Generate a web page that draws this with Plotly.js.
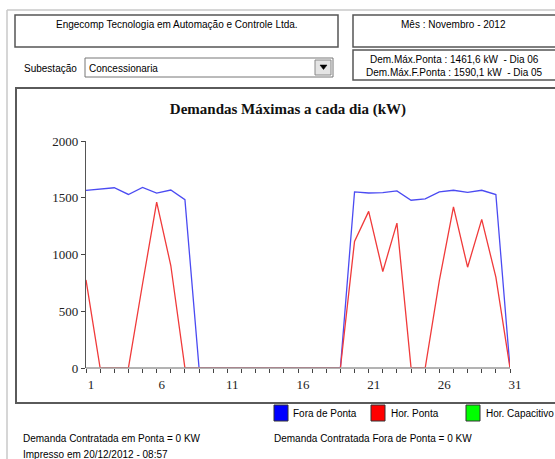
<!DOCTYPE html>
<html>
<head>
<meta charset="utf-8">
<script src="https://cdn.plot.ly/plotly-3.0.1.min.js"></script>
<style>
html,body{margin:0;padding:0;background:#fff;}
#chart{width:555px;height:459px;}
</style>
</head>
<body>
<div id="chart"></div>
<script>
// ---- data ----
const days = [1,2,3,4,5,6,7,8,9,10,11,12,13,14,15,16,17,18,19,20,21,22,23,24,25,26,27,28,29,30,31];
const foraDePonta = [1565,1576,1588,1529,1590.1,1541,1568,1483,0,0,0,0,0,0,0,0,0,0,0,1551,1542,1545,1560,1478,1490,1551,1566,1548,1566,1528,0];
const horPonta = [776,0,0,0,740,1461.6,903,0,0,0,0,0,0,0,0,0,0,0,0,1115,1380,850,1277,0,0,770,1419,888,1310,800,0];
const xTickLabels = ["1","","","","","6","","","","","11","","","","","16","","","","","21","","","","","26","","","","","31"];
const yTickVals = [0,500,1000,1500,2000];
const seriesNames = ["Fora de Ponta","Hor. Ponta","Hor. Capacitivo"];
const legendColors = ["#0000ff","#ff0000","#00ff00"];

const W = 555, H = 459;
const px = v => v / W;
const py = v => 1 - v / H;

const uiFont = {family: "Liberation Sans, Arial, sans-serif", size: 10, color: "#000"};

function rect(x0, y0, x1, y1, color, width, fill, layer) {
  return {type: "rect", xref: "paper", yref: "paper", x0: px(x0), x1: px(x1), y0: py(y1), y1: py(y0),
          line: {color: color, width: width}, fillcolor: fill || "rgba(0,0,0,0)", layer: layer || "below"};
}
function line(x0, y0, x1, y1, color, width, layer) {
  return {type: "line", xref: "paper", yref: "paper", x0: px(x0), x1: px(x1), y0: py(y0), y1: py(y1),
          line: {color: color, width: width}, layer: layer || "below"};
}
function text(t, x, y, anchor, font) {
  return {text: t, xref: "paper", yref: "paper", x: px(x), y: py(y), xanchor: anchor || "left",
          yanchor: "middle", showarrow: false, font: font || uiFont};
}

const xDomain = [px(86), px(510)];
const yDomain = [py(368), py(141)];

const shapes = [
  line(7, 10, 555, 10, "#c8c8c8", 1.5),
  line(7, 10, 7, 459, "#c8c8c8", 1.5),
  rect(15, 15, 338, 47, "#555", 1.5),
  rect(353, 15, 556, 47, "#555", 1.5),
  rect(353, 50, 556, 80, "#555", 1.5),
  rect(85, 58, 333, 77, "#777", 1),
  rect(315, 60, 331, 75, "#888", 1, "#e4e4e4"),
  {type: "path", xref: "paper", yref: "paper",
   path: `M ${px(320)} ${py(65)} L ${px(327)} ${py(65)} L ${px(323.5)} ${py(69.5)} Z`,
   fillcolor: "#000", line: {color: "#000", width: 0.5}, layer: "below"},
  rect(16, 88, 556, 403, "#5a5a5a", 2),
  // x axis baseline drawn over the traces (hides the zero-valued stretches, as in the original)
  {type: "line", xref: "paper", yref: "paper", x0: xDomain[0], x1: xDomain[1], y0: yDomain[0], y1: yDomain[0],
   line: {color: "#9a9a9a", width: 1.6}, layer: "above"}
];

// legend swatches
const legX = [274, 371, 466];
const legTextX = [291, 389, 484];
const annotations = [
  text("Engecomp Tecnologia em Automação e Controle Ltda.", 177, 24, "center"),
  text("Mês : Novembro - 2012", 453, 25, "center"),
  text("Dem.Máx.Ponta : 1461,6 kW  - Dia 06", 454, 59, "center"),
  text("Dem.Máx.F.Ponta : 1590,1 kW  - Dia 05", 454, 72, "center"),
  text("Subestação", 22, 68, "left"),
  text("Concessionaria", 87, 68, "left"),
  text("Demanda Contratada em Ponta = 0 KW", 21, 438, "left"),
  text("Demanda Contratada Fora de Ponta = 0 KW", 272, 438, "left"),
  text("Impresso em 20/12/2012 - 08:57", 21, 454, "left")
];
for (let i = 0; i < seriesNames.length; i++) {
  shapes.push(rect(legX[i], 405, legX[i] + 14, 421, "#333", 1, legendColors[i]));
  annotations.push(text(seriesNames[i], legTextX[i], 413, "left"));
}

const traces = [
  {x: days, y: foraDePonta, name: seriesNames[0], type: "scatter", mode: "lines",
   line: {color: "#4b4bf2", width: 1.3}, showlegend: false, hoverinfo: "skip"},
  {x: days, y: horPonta, name: seriesNames[1], type: "scatter", mode: "lines",
   line: {color: "#f03a3a", width: 1.3}, showlegend: false, hoverinfo: "skip"}
];

const tickFont = {family: "Liberation Serif, Times New Roman, serif", size: 13, color: "#222"};

const layout = {
  width: W, height: H, autosize: false,
  margin: {l: 0, r: 0, t: 0, b: 0, pad: 0},
  paper_bgcolor: "#fff", plot_bgcolor: "rgba(0,0,0,0)",
  showlegend: false,
  title: {text: "<b>Demandas Máximas a cada dia (kW)</b>", x: px(288), y: py(109),
          xanchor: "center", yanchor: "middle",
          font: {family: "Liberation Serif, Times New Roman, serif", size: 15, color: "#111"}},
  xaxis: {domain: xDomain, range: [1, 31], anchor: "y", showgrid: false, zeroline: false,
          showline: false, layer: "above traces",
          tickmode: "array", tickvals: days, ticktext: xTickLabels,
          ticks: "outside", ticklen: 4, tickcolor: "#444", tickwidth: 1,
          tickfont: tickFont, ticklabelshift: 5, ticklabelstandoff: 0},
  xaxis2: {domain: xDomain, range: [1, 31], overlaying: "x", anchor: "y", showgrid: false, zeroline: false,
           showline: false, tickmode: "array", tickvals: days, showticklabels: false,
           ticks: "inside", ticklen: 4, tickcolor: "#444", tickwidth: 1, layer: "above traces"},
  yaxis: {domain: yDomain, range: [0, 2000], anchor: "x", showgrid: false, zeroline: false,
          showline: true, linecolor: "#555", linewidth: 1.2, layer: "above traces",
          tickmode: "array", tickvals: yTickVals,
          ticks: "outside", ticklen: 4, tickcolor: "#444", tickwidth: 1, tickfont: tickFont},
  yaxis2: {domain: yDomain, range: [0, 2000], overlaying: "y", anchor: "x", showgrid: false, zeroline: false,
           showline: false, tickmode: "array", tickvals: yTickVals, showticklabels: false,
           ticks: "inside", ticklen: 4, tickcolor: "#444", tickwidth: 1, layer: "above traces"},
  shapes: shapes,
  annotations: annotations
};

Plotly.newPlot("chart", traces, layout, {staticPlot: true, displayModeBar: false});
</script>
</body>
</html>
